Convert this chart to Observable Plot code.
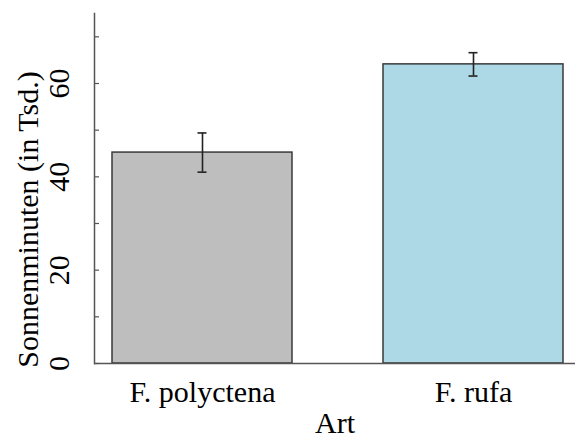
<!DOCTYPE html>
<html>
<head>
<meta charset="utf-8">
<script src="https://cdn.jsdelivr.net/npm/d3@7"></script>
<script src="https://cdn.jsdelivr.net/npm/@observablehq/plot@0.6"></script>
<style>
  html, body { margin: 0; padding: 0; background: #fff; }
</style>
</head>
<body>
<div id="chart"></div>
<script>
const species = ["F. polyctena", "F. rufa"];
const means = [45.2, 64.1];
const errors = [4.2, 2.5];
const fills = ["#bebebe", "#add8e6"];
const yTicks = [0, 10, 20, 30, 40, 50, 60, 70];
const yTickLabels = [0, 20, 40, 60];
const xLabel = "Art";
const yLabel = "Sonnenminuten (in Tsd.)";

const data = species.map((s, i) => ({
  species: s, mean: means[i], lo: means[i] - errors[i], hi: means[i] + errors[i]
}));

const font = { fontFamily: "Liberation Serif", fontSize: 30, fill: "#000" };

const chart = Plot.plot({
  width: 575,
  height: 437,
  marginLeft: 94,
  marginRight: 0,
  marginTop: 13,
  marginBottom: 74,
  style: { fontFamily: "Liberation Serif", fontSize: "30px", color: "#000", background: "#fff" },
  x: { domain: species, paddingInner: 0.335, paddingOuter: 0.052, align: 0.6, axis: null },
  y: { domain: [0, 75], axis: null },
  color: { domain: species, range: fills },
  marks: [
    Plot.barY(data, { x: "species", y: "mean", fill: "species", stroke: "#3a3a3a", strokeWidth: 1.5 }),
    Plot.ruleX(data, { x: "species", y1: "lo", y2: "hi", stroke: "#222", strokeWidth: 1.6 }),
    Plot.tickY(data, { x: "species", y: "lo", stroke: "#222", strokeWidth: 1.6, insetLeft: 85.5, insetRight: 85.5 }),
    Plot.tickY(data, { x: "species", y: "hi", stroke: "#222", strokeWidth: 1.6, insetLeft: 85.5, insetRight: 85.5 }),
    Plot.ruleY([0], { stroke: "#555", strokeWidth: 1.5 }),
    Plot.frame({ anchor: "left", stroke: "#555", strokeWidth: 1.5 }),
    Plot.axisY({ ticks: yTicks, tickSize: -5, tickFormat: () => "", stroke: "#555", strokeWidth: 1.2 }),
    Plot.text(yTickLabels, { ...font, y: d => d, text: d => String(d), frameAnchor: "left", rotate: -90, lineAnchor: "bottom", textAnchor: "middle", dx: -26 }),
    Plot.text([yLabel], { ...font, text: d => d, frameAnchor: "left", rotate: -90, lineAnchor: "bottom", textAnchor: "middle", dx: -57, dy: 31 }),
    Plot.text(data, { ...font, x: "species", text: "species", frameAnchor: "bottom", lineAnchor: "bottom", dy: 38.7 }),
    Plot.text([xLabel], { ...font, text: d => d, frameAnchor: "bottom", lineAnchor: "bottom", dy: 69 })
  ]
});

document.getElementById("chart").appendChild(chart);
</script>
</body>
</html>
